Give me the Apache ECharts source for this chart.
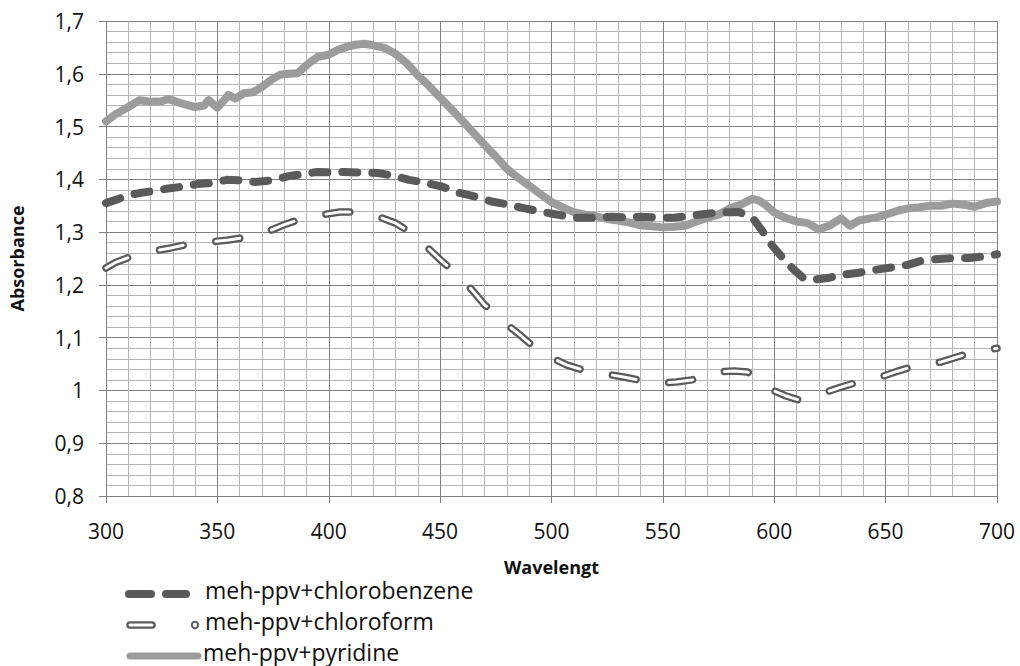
<!DOCTYPE html>
<html>
<head>
<meta charset="utf-8">
<script src="https://cdn.jsdelivr.net/npm/echarts@6/dist/echarts.min.js"></script>
<style>html,body{margin:0;padding:0;background:#fff}#c{width:1020px;height:666px}</style>
</head>
<body>
<div id="c"></div>
<script>
// ---- data ----
const pyridineX = [300,305,310,315,320,325,328,333,340,344,346,350,353,355,358,362,366,370,374,378,382,386,391,395,400,404,408,412,416,420,425,430,435,440,445,450,455,460,465,470,475,480,485,490,495,500,505,510,515,520,525,530,535,540,545,550,555,560,565,570,575,580,585,590,593,596,600,605,610,615,620,625,630,634,638,642,646,650,655,660,665,670,675,680,685,690,695,700];
const pyridineY = [1.51,1.525,1.537,1.55,1.547,1.548,1.552,1.545,1.537,1.54,1.55,1.536,1.55,1.56,1.553,1.563,1.565,1.575,1.588,1.598,1.6,1.601,1.62,1.632,1.636,1.645,1.651,1.655,1.657,1.654,1.649,1.638,1.62,1.597,1.577,1.555,1.533,1.511,1.488,1.465,1.443,1.42,1.403,1.388,1.372,1.357,1.347,1.338,1.333,1.33,1.325,1.322,1.318,1.313,1.311,1.309,1.31,1.312,1.32,1.327,1.333,1.345,1.352,1.363,1.36,1.352,1.337,1.327,1.32,1.317,1.305,1.313,1.326,1.312,1.322,1.325,1.328,1.333,1.34,1.345,1.347,1.35,1.35,1.354,1.352,1.348,1.355,1.358];

const chlorobenzeneX = [300,305,310,315,320,327,334,341,348,354,360,367,374,382,388,395,401,407,414,422,429,436,443,451,458,466,473,481,488,496,503,510,518,527,534,540,547,554,560,566,575,584,589,591,595,598,602,605,608,613,618,624,630,638,646,654,660,667,674,680,688,694,700];
const chlorobenzeneY = [1.355,1.362,1.37,1.374,1.377,1.382,1.386,1.391,1.393,1.399,1.398,1.395,1.398,1.406,1.41,1.414,1.413,1.414,1.413,1.412,1.407,1.399,1.394,1.386,1.375,1.367,1.358,1.352,1.345,1.338,1.333,1.327,1.327,1.329,1.328,1.329,1.328,1.327,1.33,1.333,1.337,1.338,1.33,1.323,1.3,1.28,1.26,1.245,1.232,1.213,1.21,1.213,1.219,1.223,1.229,1.234,1.238,1.247,1.249,1.251,1.251,1.254,1.258];

const chloroformX = [300,304,309,313,320,329,338,346,355,364,372,380,389,397,405,411,416,423,430,435,439,445,451,456,460,465,470,475,479,485,490,495,500,507,514,520,526,533,539,544,549,556,563,570,575,582,588,595,599,605,611,616,622,629,636,642,648,655,662,668,675,681,688,694,700];
const chloroformY = [1.232,1.242,1.25,1.257,1.263,1.27,1.278,1.281,1.285,1.291,1.3,1.314,1.327,1.333,1.338,1.338,1.336,1.328,1.317,1.304,1.291,1.268,1.244,1.226,1.21,1.187,1.162,1.145,1.128,1.108,1.09,1.075,1.062,1.048,1.039,1.034,1.03,1.025,1.02,1.017,1.014,1.016,1.02,1.028,1.035,1.037,1.035,1.015,1.001,0.99,0.982,0.987,0.995,1.005,1.014,1.02,1.026,1.036,1.045,1.05,1.054,1.062,1.071,1.075,1.08];

const seriesNames = ['meh-ppv+chlorobenzene','meh-ppv+chloroform','meh-ppv+pyridine'];
const xTitle = 'Wavelengt';
const yTitle = 'Absorbance';

const pair = (xs, ys) => xs.map((x, i) => [x, ys[i]]);

const DARK = '#5a5a5a', LIGHT = '#9c9c9c';
const FONT = '"Open Sans", "Noto Sans", sans-serif';

const chart = echarts.init(document.getElementById('c'), null, {renderer: 'svg'});

const option = {
  animation: false,
  backgroundColor: '#fff',
  grid: {left: 102, right: 23, top: 21, bottom: 170, containLabel: false},
  xAxis: {
    type: 'value', min: 300, max: 700, interval: 50,
    name: xTitle, nameLocation: 'middle', nameGap: 62,
    nameTextStyle: {fontFamily: FONT, fontWeight: 'bold', fontSize: 18, color: '#111'},
    axisLine: {show: true, lineStyle: {color: '#808080', width: 1}},
    axisTick: {show: true, length: 7, lineStyle: {color: '#808080'}},
    axisLabel: {fontFamily: FONT, fontSize: 21, color: '#111', margin: 24},
    splitLine: {show: true, lineStyle: {color: '#808080', width: 1}},
    minorTick: {show: false, splitNumber: 5},
    minorSplitLine: {show: true, lineStyle: {color: '#b4b4b4', width: 1}}
  },
  yAxis: {
    type: 'value', min: 0.8, max: 1.7, interval: 0.1,
    name: yTitle, nameLocation: 'middle', nameGap: 80, nameRotate: 90,
    nameTextStyle: {fontFamily: FONT, fontWeight: 'bold', fontSize: 18, color: '#111'},
    axisLine: {show: true, lineStyle: {color: '#808080', width: 1}},
    axisTick: {show: true, length: 7, lineStyle: {color: '#808080'}},
    axisLabel: {fontFamily: FONT, fontSize: 21, color: '#111', margin: 22,
      formatter: v => Math.abs(v - 1) < 1e-9 ? '1' : v.toFixed(1).replace('.', ',')},
    splitLine: {show: true, lineStyle: {color: '#808080', width: 1}},
    minorTick: {show: false, splitNumber: 5},
    minorSplitLine: {show: true, lineStyle: {color: '#b4b4b4', width: 1}}
  },
  series: [
    {
      name: seriesNames[2], type: 'line', showSymbol: false, symbol: 'none',
      data: pair(pyridineX, pyridineY),
      lineStyle: {color: LIGHT, width: 8, cap: 'round', join: 'round'}, z: 2
    },
    {
      name: seriesNames[0], type: 'line', showSymbol: false, symbol: 'none',
      data: pair(chlorobenzeneX, chlorobenzeneY),
      lineStyle: {color: DARK, width: 8, type: [15, 15], cap: 'round', join: 'round'}, z: 3
    },
    {
      name: seriesNames[1], type: 'line', showSymbol: false, symbol: 'none',
      data: pair(chloroformX, chloroformY),
      lineStyle: {color: DARK, width: 7.5, type: [24, 33], cap: 'round', join: 'round'}, z: 4
    },
    {
      name: seriesNames[1] + ' fill', type: 'line', showSymbol: false, symbol: 'none',
      data: pair(chloroformX, chloroformY),
      lineStyle: {color: '#ffffff', width: 3, type: [24, 33], cap: 'round', join: 'round'}, z: 5
    }
  ],
  graphic: [
    {type: 'line', shape: {x1: 129, y1: 594, x2: 151, y2: 594}, style: {stroke: DARK, lineWidth: 8, lineCap: 'round'}},
    {type: 'line', shape: {x1: 166, y1: 594, x2: 186, y2: 594}, style: {stroke: DARK, lineWidth: 8, lineCap: 'round'}},
    {type: 'text', left: 205, top: 578, style: {text: seriesNames[0], fontFamily: FONT, fontSize: 23, fill: '#111'}},
    {type: 'line', shape: {x1: 130, y1: 625, x2: 152, y2: 625}, style: {stroke: DARK, lineWidth: 7.5, lineCap: 'round'}},
    {type: 'line', shape: {x1: 130, y1: 625, x2: 152, y2: 625}, style: {stroke: '#fff', lineWidth: 3, lineCap: 'round'}},
    {type: 'circle', shape: {cx: 195, cy: 625, r: 3.2}, style: {fill: '#fff', stroke: DARK, lineWidth: 2}},
    {type: 'text', left: 205, top: 609, style: {text: seriesNames[1], fontFamily: FONT, fontSize: 23, fill: '#111'}},
    {type: 'line', shape: {x1: 130, y1: 656, x2: 198, y2: 656}, style: {stroke: LIGHT, lineWidth: 7, lineCap: 'round'}},
    {type: 'text', left: 203, top: 640, style: {text: seriesNames[2], fontFamily: FONT, fontSize: 23, fill: '#111'}}
  ]
};
chart.setOption(option);
</script>
</body>
</html>
